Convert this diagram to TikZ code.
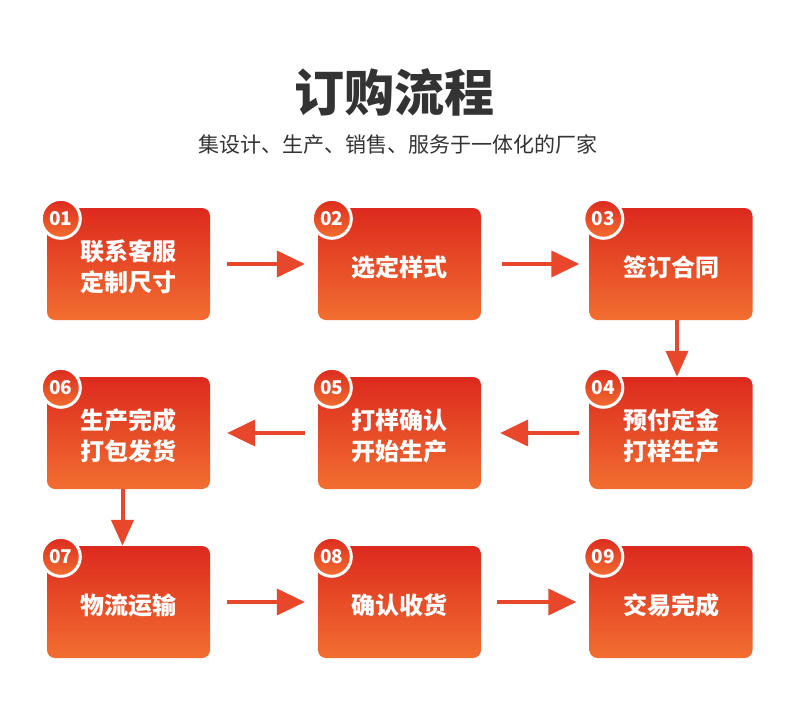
\documentclass[tikz,border=0pt]{standalone}
\usepackage{fontspec}
\setmainfont{Noto Sans CJK SC}
\usetikzlibrary{arrows.meta}
\definecolor{boxtop}{HTML}{DC2A1E}
\definecolor{boxbot}{HTML}{F26E30}
\definecolor{arrowred}{HTML}{E8472B}
\definecolor{titlegray}{HTML}{333333}
\tikzset{
 stepbox/.style={rounded corners=8pt,minimum width=163pt,minimum height=112pt,inner sep=0,
  top color=boxtop,bottom color=boxbot},
 steptext/.style={text=white,align=center,inner sep=0,
  font=\bfseries\fontsize{24}{31}\selectfont},
 numdot/.style={circle,draw=white,line width=3pt,minimum size=39pt,inner sep=0,
  top color=boxtop,bottom color=boxbot,text=white,font=\bfseries\fontsize{19}{19}\selectfont},
 flow/.style={arrowred,line width=4pt,-{Triangle[length=28pt,width=26pt]}},
 flowdown/.style={arrowred,line width=4pt,-{Triangle[length=26pt,width=22pt]}}
}
\begin{document}
\begin{tikzpicture}[x=1pt,y=-1pt]
 \useasboundingbox[fill=white] (0,0) rectangle (790,702);
 % heading
 \node[titlegray,font=\bfseries\fontsize{50}{50}\selectfont] (title) at (394,92) {订购流程};
 \node[titlegray,font=\fontsize{21}{21}\selectfont] (sub) at (398,145) {集设计、生产、销售、服务于一体化的厂家};
 % steps
 \foreach \i/\x/\y/\txt in {1/128.5/264/{联系客服\\定制尺寸},2/399.5/264/{选定样式},3/671/264/{签订合同},
   4/671/433/{预付定金\\打样生产},5/399.5/433/{打样确认\\开始生产},6/128.5/433/{生产完成\\打包发货},
   7/128.5/602/{物流运输},8/399.5/602/{确认收货},9/671/602/{交易完成}}{
  \node[stepbox] (b\i) at (\x,\y) {};
  \node[steptext] (t\i) at ([yshift=-3pt]b\i.center) {\txt};
  \node[numdot] (n\i) at ([xshift=14pt,yshift=-11pt]b\i.north west) {0\i};
 }
 % arrows
 \draw[flow,shorten <=17pt,shorten >=13pt] (b1) -- (b2);
 \draw[flow,shorten <=21pt,shorten >=10pt] (b2) -- (b3);
 \draw[flowdown] ([xshift=6pt]b3.south) -- ([xshift=6pt]b4.north);
 \draw[flow,shorten <=10pt,shorten >=19pt] (b4) -- (b5);
 \draw[flow,shorten <=13pt,shorten >=17pt] (b5) -- (b6);
 \draw[flowdown] ([xshift=-6pt]b6.south) -- ([xshift=-6pt]b7.north);
 \draw[flow,shorten <=17pt,shorten >=13pt] (b7) -- (b8);
 \draw[flow,shorten <=16pt,shorten >=13pt] (b8) -- (b9);
\end{tikzpicture}
\end{document}
